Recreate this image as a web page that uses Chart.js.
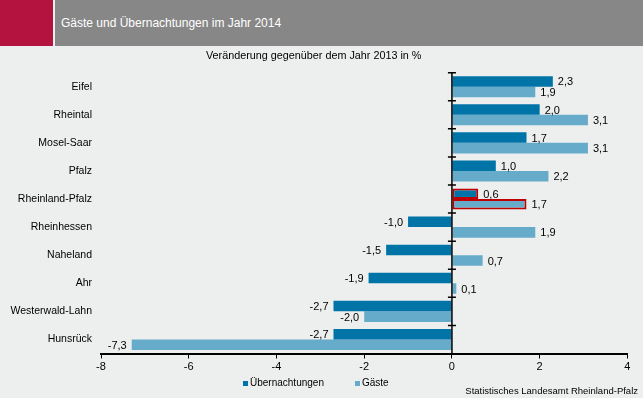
<!DOCTYPE html>
<html>
<head>
<meta charset="utf-8">
<script src="https://cdn.jsdelivr.net/npm/chart.js@4.4.1/dist/chart.umd.min.js"></script>
<style>
  body { margin: 0; background: #EDEFEE; font-family: "Liberation Sans", Arial, sans-serif; }
  #wrap { position: relative; width: 643px; height: 398px; overflow: hidden; }
  #red { position: absolute; left: 0; top: 0; width: 53px; height: 46px; background: #B5133F; }
  #grey { position: absolute; left: 55px; top: 0; width: 588px; height: 46px; background: #878787; }
  #title { position: absolute; left: 61px; top: 16px; color: #fff; font-size: 12px; }
  #c { position: absolute; left: 0; top: 0; }
</style>
</head>
<body>
<div id="wrap">
  <div id="red"></div>
  <div id="grey"></div>
  <div id="title">Gäste und Übernachtungen im Jahr 2014</div>
  <canvas id="c" width="643" height="398"></canvas>
</div>
<script>
// Daten
const regions = ['Eifel', 'Rheintal', 'Mosel-Saar', 'Pfalz', 'Rheinland-Pfalz', 'Rheinhessen', 'Naheland', 'Ahr', 'Westerwald-Lahn', 'Hunsrück'];
const uebernachtungen = [2.3, 2.0, 1.7, 1.0, 0.6, -1.0, -1.5, -1.9, -2.7, -2.7];
const gaeste = [1.9, 3.1, 3.1, 2.2, 1.7, 1.9, 0.7, 0.1, -2.0, -7.3];
const xTicks = [-8, -6, -4, -2, 0, 2, 4];
const highlight = 'Rheinland-Pfalz';

const FONT = '"Liberation Sans", Arial, sans-serif';
const fmt = v => v.toFixed(1).replace('.', ',');

const borderCols = regions.map(r => r === highlight ? '#C00000' : 'rgba(0,0,0,0)');
const borderW = regions.map(r => r === highlight ? 2 : 0);

// null-linie mit kleinen strichen zwischen den kategorien
const zeroLine = {
  id: 'zeroLine',
  afterDatasetsDraw(chart) {
    const { ctx, chartArea, scales: { x, y } } = chart;
    const x0 = x.getPixelForValue(0);
    const band = y.getPixelForValue(1) - y.getPixelForValue(0);
    ctx.save();
    ctx.strokeStyle = '#000';
    ctx.lineWidth = 1.5;
    ctx.beginPath();
    ctx.moveTo(x0, chartArea.top);
    ctx.lineTo(x0, chartArea.bottom);
    for (let i = 0; i < regions.length; i++) {
      const yy = y.getPixelForValue(i) - band / 2;
      ctx.moveTo(x0 - 4, yy);
      ctx.lineTo(x0 + 4, yy);
    }
    ctx.stroke();
    ctx.restore();
  }
};

const valueLabels = {
  id: 'valueLabels',
  afterDatasetsDraw(chart) {
    const { ctx } = chart;
    ctx.save();
    ctx.font = '11px ' + FONT;
    ctx.fillStyle = '#000';
    ctx.textBaseline = 'middle';
    chart.data.datasets.forEach((ds, di) => {
      chart.getDatasetMeta(di).data.forEach((el, i) => {
        const v = ds.data[i];
        if (v >= 0) {
          ctx.textAlign = 'left';
          ctx.fillText(fmt(v), el.x + 5, el.y + 1);
        } else {
          ctx.textAlign = 'right';
          ctx.fillText(fmt(v), el.x - 5, el.y + 1);
        }
      });
    });
    ctx.restore();
  }
};

const bottomLegend = {
  id: 'bottomLegend',
  afterDraw(chart) {
    const { ctx } = chart;
    ctx.save();
    ctx.font = '10px ' + FONT;
    ctx.textBaseline = 'middle';
    ctx.textAlign = 'left';
    let lx = 243;
    const ly = 383.5;
    chart.data.datasets.forEach(ds => {
      ctx.fillStyle = ds.backgroundColor;
      ctx.fillRect(lx, ly - 2.5, 5, 5);
      ctx.fillStyle = '#000';
      ctx.fillText(ds.label, lx + 7, ly);
      lx += 112;
    });
    ctx.font = '9.5px ' + FONT;
    ctx.textAlign = 'right';
    ctx.fillText('Statistisches Landesamt Rheinland-Pfalz', 638, 391);
    ctx.restore();
  }
};

new Chart(document.getElementById('c'), {
  type: 'bar',
  data: {
    labels: regions,
    datasets: [
      {
        label: 'Übernachtungen',
        data: uebernachtungen,
        backgroundColor: '#0073A7',
        borderColor: borderCols,
        borderWidth: borderW,
        borderSkipped: false
      },
      {
        label: 'Gäste',
        data: gaeste,
        backgroundColor: '#66ACCA',
        borderColor: borderCols,
        borderWidth: borderW,
        borderSkipped: false
      }
    ]
  },
  options: {
    indexAxis: 'y',
    responsive: false,
    animation: false,
    events: [],
    categoryPercentage: 0.75,
    barPercentage: 1.0,
    layout: { padding: { top: 50, right: 15.6, bottom: 24.5, left: 0 } },
    plugins: {
      legend: { display: false },
      tooltip: { enabled: false },
      title: {
        display: true,
        text: 'Veränderung gegenüber dem Jahr 2013 in %',
        color: '#000',
        font: { family: FONT, size: 10.8, weight: 'normal' },
        padding: { top: 0, bottom: 9.7 }
      }
    },
    scales: {
      x: {
        min: -8,
        max: 4,
        afterBuildTicks: s => { s.ticks = xTicks.map(v => ({ value: v })); },
        afterFit: s => { s.height = 20; },
        grid: { display: true, drawOnChartArea: false, drawTicks: true, tickLength: 5, color: '#000', lineWidth: 1 },
        border: { display: true, color: '#000', width: 2 },
        ticks: { color: '#000', font: { family: FONT, size: 11 }, padding: 2, maxRotation: 0 }
      },
      y: {
        afterFit: s => { s.width = 101; },
        grid: { display: false, drawTicks: false },
        border: { display: false },
        ticks: { color: '#000', font: { family: FONT, size: 10.5 }, padding: 9 }
      }
    }
  },
  plugins: [zeroLine, valueLabels, bottomLegend]
});
</script>
</body>
</html>
